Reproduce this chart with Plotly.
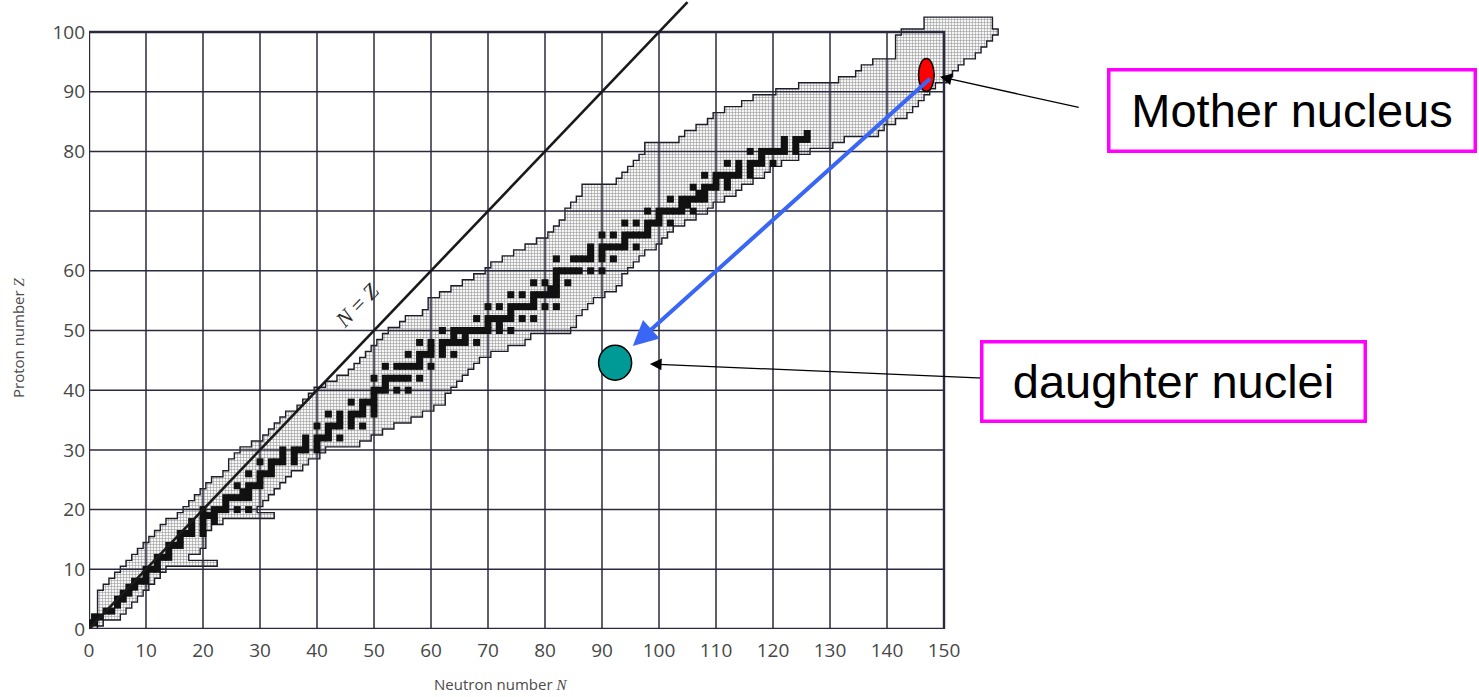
import plotly.graph_objects as go

# ---- data -------------------------------------------------------------
# Known nuclides: for each proton number Z, lightest and heaviest neutron number N
Z_ROWS = list(range(0, 103))
N_MIN = [1, 0, 1, 2, 2, 2, 2, 3, 4, 5,
         6, 7, 8, 9, 10, 11, 12, 13, 14, 16,
         17, 18, 19, 20, 21, 22, 24, 25, 25, 26,
         27, 29, 31, 32, 33, 34, 35, 37, 38, 39,
         40, 42, 44, 46, 47, 48, 49, 50, 51, 52,
         53, 55, 56, 59, 60, 60, 62, 64, 66, 68,
         70, 71, 73, 75, 77, 79, 81, 82, 83, 84,
         84, 85, 86, 87, 87, 93, 94, 95, 96, 97,
         98, 98, 104, 105, 107, 109, 110, 112, 115, 117,
         121, 125, 132, 135, 136, 138, 142, 142, 142, 142,
         143, 147, 147]
N_MAX = [1, 2, 5, 6, 7, 8, 9, 10, 11, 12,
         13, 22, 17, 19, 20, 20, 20, 21, 23, 32,
         29, 30, 31, 32, 33, 34, 35, 37, 38, 40,
         41, 47, 49, 51, 53, 56, 58, 60, 62, 62,
         63, 64, 65, 66, 67, 68, 70, 73, 76, 77,
         84, 85, 85, 86, 87, 88, 90, 92, 93, 93,
         94, 95, 96, 97, 99, 100, 101, 102, 104, 106,
         108, 109, 111, 113, 114, 116, 118, 119, 121, 124,
         126, 130, 132, 138, 139, 141, 143, 144, 145, 146,
         147, 148, 150, 151, 152, 153, 155, 156, 157, 158,
         159, 158, 158]

# Stable nuclides: neutron numbers for each Z (index = Z)
STABLE_N = [
    [], [0, 1], [1, 2], [3, 4], [5], [5, 6], [6, 7], [7, 8], [8, 9, 10], [10],
    [10, 11, 12], [12], [12, 13, 14], [14], [14, 15, 16], [16], [16, 17, 18, 20], [18, 20], [18, 20, 22], [20, 21, 22],
    [20, 22, 23, 24, 26, 28], [24], [24, 25, 26, 27, 28], [27, 28], [26, 28, 29, 30], [30], [28, 30, 31, 32], [32], [30, 32, 33, 34, 36], [34, 36],
    [34, 36, 37, 38, 40], [38, 40], [38, 40, 41, 42, 44], [42], [40, 42, 43, 44, 46, 48], [44, 46], [42, 44, 46, 47, 48, 50], [48, 50], [46, 48, 49, 50], [50],
    [50, 51, 52, 54, 56], [52], [50, 52, 53, 54, 55, 56, 58], [], [52, 54, 55, 56, 57, 58, 60], [58], [56, 58, 59, 60, 62, 64], [60, 62], [58, 60, 62, 63, 64, 65, 66, 68], [64, 66],
    [62, 64, 65, 66, 67, 68, 69, 70, 72, 74], [70, 72], [68, 70, 71, 72, 73, 74, 76, 78], [74], [70, 72, 74, 75, 76, 77, 78, 80, 82], [78], [74, 76, 78, 79, 80, 81, 82], [81, 82], [78, 80, 82, 84], [82],
    [82, 83, 84, 85, 86, 88, 90], [], [82, 85, 86, 87, 88, 90, 92], [88, 90], [88, 90, 91, 92, 93, 94, 96], [94], [90, 92, 94, 95, 96, 97, 98], [98], [94, 96, 98, 99, 100, 102], [100],
    [98, 100, 101, 102, 103, 104, 106], [104, 105], [102, 104, 105, 106, 107, 108], [107, 108], [106, 108, 109, 110, 112], [110, 112], [108, 110, 111, 112, 113, 114, 116], [114, 116], [112, 114, 116, 117, 118, 120], [118],
    [116, 118, 119, 120, 121, 122, 124], [122, 124], [122, 124, 125, 126], [126],
]

X_TICKS = list(range(0, 151, 10))
Y_TICKS = [0, 10, 20, 30, 40, 50, 60, 80, 90, 100]
GRID_Z = list(range(0, 101, 10))

MOTHER = (146.9, 92.8)      # (N, Z)
DAUGHTER = (92.3, 44.6)     # (N, Z)

# ---- geometry of the page --------------------------------------------
W, H = 1479, 697
LEFT, BOTTOM = 89, 68
PX_N, PX_Z = 5.70, 5.97          # pixels per unit of N and Z
PLOT_W, PLOT_H = W - LEFT, H - BOTTOM
X_RANGE = [0, PLOT_W / PX_N]
Y_RANGE = [0, PLOT_H / PX_Z]


def paper_x(px):
    return (px - LEFT) / PLOT_W


def paper_y(py):
    return (PLOT_H - py) / PLOT_H


GRID_COLOR = "#2a2a3e"
TICK_FONT = dict(family="Open Sans, DejaVu Sans, sans-serif", size=19, color="#474747")

fig = go.Figure()

# known-nuclide band as a stepped outline
bx, by = [], []
for z, hi in zip(Z_ROWS, N_MAX):
    bx += [hi + 0.5, hi + 0.5]
    by += [z - 0.5, z + 0.5]
for z, lo in reversed(list(zip(Z_ROWS, N_MIN))):
    bx += [lo - 0.5, lo - 0.5]
    by += [z + 0.5, z - 0.5]
bx.append(bx[0])
by.append(by[0])
fig.add_trace(go.Scatter(
    x=bx, y=by, mode="lines", fill="toself",
    fillcolor="#e6e6e6",
    fillpattern=dict(shape="+", size=3, solidity=0.3, fgcolor="#8c8c8c",
                     bgcolor="#f6f6f6", fillmode="replace"),
    line=dict(color="#1e1e28", width=1.4), hoverinfo="skip", showlegend=False))

# grid
gx, gy = [], []
for n in X_TICKS:
    gx += [n, n, None]
    gy += [0, 100, None]
for z in GRID_Z:
    gx += [0, 150, None]
    gy += [z, z, None]
fig.add_trace(go.Scatter(x=gx, y=gy, mode="lines",
                         line=dict(color=GRID_COLOR, width=1.5),
                         hoverinfo="skip", showlegend=False))
# frame
fig.add_trace(go.Scatter(x=[0, 150, 150, 0, 0], y=[0, 0, 100, 100, 0], mode="lines",
                         line=dict(color=GRID_COLOR, width=2.4),
                         hoverinfo="skip", showlegend=False))

# stable nuclides
sx, sy = [], []
for z, ns in enumerate(STABLE_N):
    for n in ns:
        sx.append(n)
        sy.append(z)
fig.add_trace(go.Scatter(x=sx, y=sy, mode="markers",
                         marker=dict(symbol="square", size=7, color="#111111", line=dict(width=0)),
                         hoverinfo="skip", showlegend=False))

# N = Z line
fig.add_trace(go.Scatter(x=[0, 105], y=[0, 105], mode="lines",
                         line=dict(color="#1a1a1a", width=2.6),
                         hoverinfo="skip", showlegend=False))

# mother and daughter nuclei
mw, mh = 2.75, 5.5
fig.add_shape(type="circle", xref="x", yref="y",
              x0=MOTHER[0] - mw / 2, x1=MOTHER[0] + mw / 2,
              y0=MOTHER[1] - mh / 2, y1=MOTHER[1] + mh / 2,
              fillcolor="#ff0000", line=dict(color="black", width=1.5), layer="above")
dw, dh = 5.8, 5.85
fig.add_shape(type="circle", xref="x", yref="y",
              x0=DAUGHTER[0] - dw / 2, x1=DAUGHTER[0] + dw / 2,
              y0=DAUGHTER[1] - dh / 2, y1=DAUGHTER[1] + dh / 2,
              fillcolor="#009a96", line=dict(color="black", width=1.5), layer="above")

ann = []
# decay arrow
ann.append(dict(x=95.4, y=47.4, ax=MOTHER[0] + 0.9, ay=MOTHER[1] - 0.4,
                xref="x", yref="y", axref="x", ayref="y", text="",
                showarrow=True, arrowhead=2, arrowsize=1.25, arrowwidth=4,
                arrowcolor="#3a66f5"))
# pointer arrows from the labels
ann.append(dict(x=149.3, y=92.5, ax=173.9, ay=87.3,
                xref="x", yref="y", axref="x", ayref="y", text="",
                showarrow=True, arrowhead=2, arrowsize=1.8, arrowwidth=1.3,
                arrowcolor="black"))
ann.append(dict(x=98.4, y=44.4, ax=157.2, ay=42.0,
                xref="x", yref="y", axref="x", ayref="y", text="",
                showarrow=True, arrowhead=2, arrowsize=1.8, arrowwidth=1.3,
                arrowcolor="black"))
# label boxes
LABEL_FONT = dict(family="Liberation Sans, Arial, sans-serif", size=47, color="black")
ann.append(dict(x=paper_x(1292), y=paper_y(110), xref="paper", yref="paper",
                xanchor="center", yanchor="middle",
                text="Mother nucleus", showarrow=False, font=LABEL_FONT,
                width=363, height=78, bgcolor="white",
                bordercolor="#ff00ff", borderwidth=3.5, borderpad=0))
ann.append(dict(x=paper_x(1173.5), y=paper_y(381.5), xref="paper", yref="paper",
                xanchor="center", yanchor="middle",
                text="daughter nuclei", showarrow=False, font=LABEL_FONT,
                width=380, height=76, bgcolor="white",
                bordercolor="#ff00ff", borderwidth=3.5, borderpad=0))
# N = Z label along the line
ann.append(dict(x=47.0, y=54.2, xref="x", yref="y",
                xanchor="center", yanchor="middle",
                text="<i>N</i> = <i>Z</i>", showarrow=False, textangle=-46,
                font=dict(family="Liberation Serif, DejaVu Serif, serif", size=22, color="#2a2a2a")))
# axis titles
TITLE_FONT = dict(family="Open Sans, DejaVu Sans, sans-serif", size=15, color="#4a4a4a")
ann.append(dict(x=paper_x(500), y=paper_y(684), xref="paper", yref="paper",
                xanchor="center", yanchor="middle",
                text="Neutron number <span style='font-family:Liberation Serif'><i>N</i></span>",
                showarrow=False, font=TITLE_FONT))
ann.append(dict(x=paper_x(18), y=paper_y(338), xref="paper", yref="paper",
                xanchor="center", yanchor="middle",
                text="Proton number <span style='font-family:Liberation Serif'><i>Z</i></span>",
                showarrow=False, textangle=-90, font=TITLE_FONT))

fig.update_layout(
    width=W, height=H,
    margin=dict(l=LEFT, r=0, t=0, b=BOTTOM, pad=0),
    paper_bgcolor="white", plot_bgcolor="white",
    annotations=ann,
    xaxis=dict(range=X_RANGE, tickvals=X_TICKS, ticktext=[str(v) for v in X_TICKS],
               showgrid=False, zeroline=False, showline=False, ticks="",
               tickfont=TICK_FONT, ticklabelstandoff=8, fixedrange=True),
    yaxis=dict(range=Y_RANGE, tickvals=Y_TICKS, ticktext=[str(v) for v in Y_TICKS],
               showgrid=False, zeroline=False, showline=False, ticks="",
               tickfont=TICK_FONT, ticklabelstandoff=3, fixedrange=True),
)

fig.write_html("out.html")
